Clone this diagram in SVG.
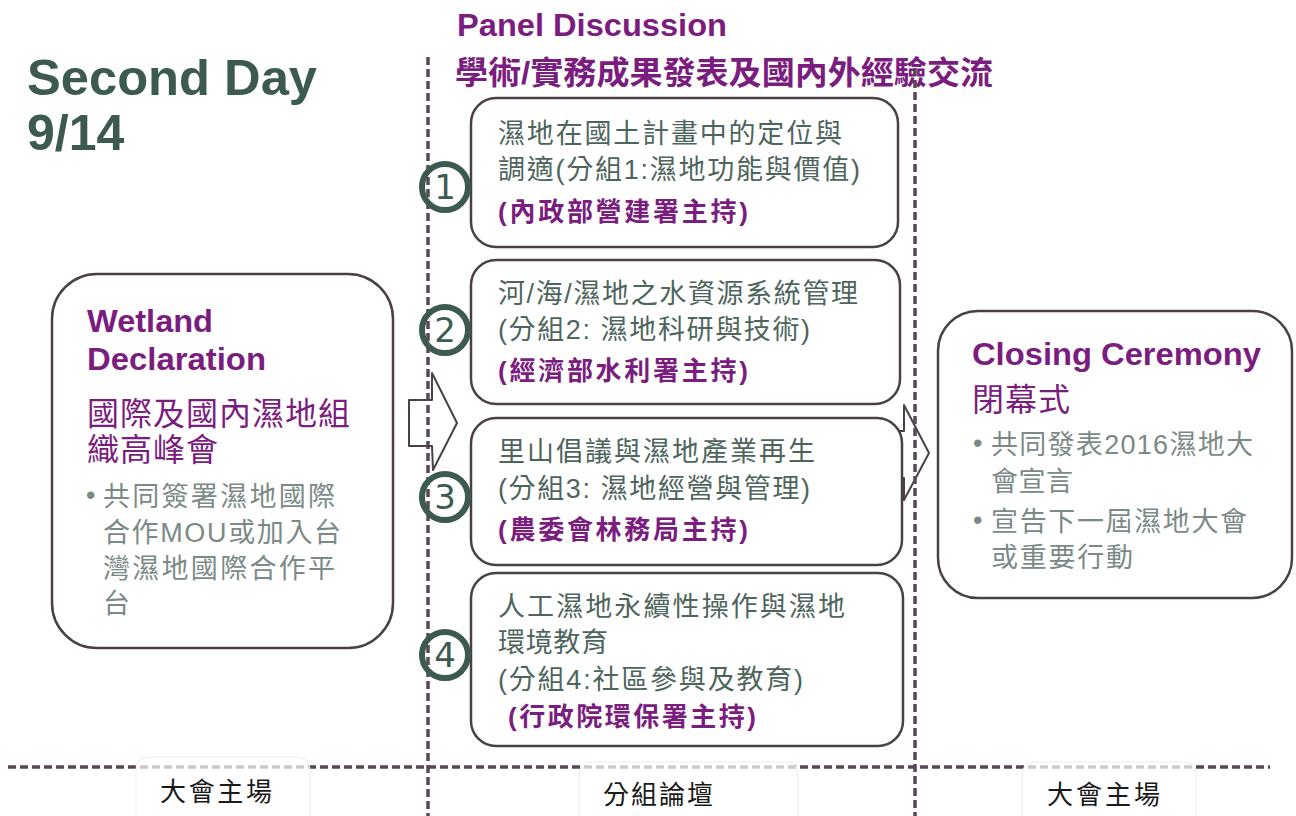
<svg xmlns="http://www.w3.org/2000/svg" width="1296" height="816" viewBox="0 0 1296 816">
<style>
.f{font-family:"Liberation Sans","Noto Sans CJK TC",sans-serif}
.title{font-size:50px;font-weight:bold;fill:#3d5a50}
.pt{font-size:32px;font-weight:bold;fill:#7b1d7e}
.hd{font-size:32px;font-weight:bold;fill:#7b1d7e}
.cj{font-size:32px;fill:#7b1d7e}
.bt{font-size:27px;fill:#4e655d}
.host{font-size:26px;font-weight:bold;fill:#7b1d7e}
.bl{font-size:27px;fill:#7b8a86}
.lab{font-size:26px;fill:#1a1a1a}
.box{fill:#ffffff;stroke:#4a404a;stroke-width:2.5}
.arrow{fill:#ffffff;stroke:#4a404a;stroke-width:2;stroke-linejoin:round}
.num{fill:none;stroke:#3d5a50;stroke-width:6}
.numt{font-size:34px;fill:#3d5a50;font-family:"DejaVu Sans","Liberation Sans",sans-serif}
.dash{stroke:#574757;stroke-width:3.5;stroke-dasharray:8 4;fill:none}
.lbg{fill:#ffffff;fill-opacity:0.7;stroke:#ececec;stroke-width:1}
</style>

<g id="heading">
<text class="f title" x="27" y="95" textLength="290" lengthAdjust="spacingAndGlyphs">Second Day</text>
<text class="f title" x="27" y="150">9/14</text>
</g>

<g id="panel-title">
<text class="f pt" x="457" y="36" textLength="270" lengthAdjust="spacingAndGlyphs">Panel Discussion</text>
<text class="f pt" x="455" y="84" textLength="538" lengthAdjust="spacingAndGlyphs">學術/實務成果發表及國內外經驗交流</text>
</g>

<g id="connectors">
<path class="arrow" d="M409,400 L432,400 L432,373 L457,423 L433,470 L432,446 L409,446 Z"/>
<path class="arrow" d="M883,431 L904,431 L904,405 L929,453 L904,500 L904,478 L883,478 Z"/>
</g>

<g id="guides">
<line class="dash" x1="428" y1="57" x2="428" y2="816"/>
<line class="dash" x1="915" y1="68" x2="915" y2="816"/>
<line class="dash" x1="8" y1="767" x2="1270" y2="767"/>
</g>

<g id="wetland-declaration">
<rect class="box" x="52" y="274" width="341" height="374" rx="45"/>
<text class="f hd" x="87" y="332" textLength="126" lengthAdjust="spacingAndGlyphs">Wetland</text>
<text class="f hd" x="87" y="370" textLength="179" lengthAdjust="spacingAndGlyphs">Declaration</text>
<text class="f cj" x="87" y="425" textLength="263" lengthAdjust="spacing">國際及國內濕地組</text>
<text class="f cj" x="87" y="461" textLength="131" lengthAdjust="spacing">織高峰會</text>
<text class="f bl" x="86" y="504" font-size="20">•</text>
<text class="f bl" x="103" y="506" textLength="232" lengthAdjust="spacing">共同簽署濕地國際</text>
<text class="f bl" x="103" y="542" textLength="238" lengthAdjust="spacing">合作MOU或加入台</text>
<text class="f bl" x="103" y="578" textLength="232" lengthAdjust="spacing">灣濕地國際合作平</text>
<text class="f bl" x="103" y="613">台</text>
</g>

<g id="group1">
<rect class="box" x="471" y="98" width="427" height="149" rx="25"/>
<text class="f bt" x="498" y="143" textLength="344" lengthAdjust="spacing">濕地在國土計畫中的定位與</text>
<text class="f bt" x="498" y="179" textLength="362" lengthAdjust="spacing">調適(分組1:濕地功能與價值)</text>
<text class="f host" x="498" y="221" textLength="250" lengthAdjust="spacing">(內政部營建署主持)</text>
<circle class="num" cx="445" cy="187" r="23"/>
<text class="numt" x="445" y="199" text-anchor="middle">1</text>
</g>

<g id="group2">
<rect class="box" x="471" y="260" width="429" height="144" rx="25"/>
<text class="f bt" x="498" y="303" textLength="360" lengthAdjust="spacing">河/海/濕地之水資源系統管理</text>
<text class="f bt" x="498" y="339" textLength="312" lengthAdjust="spacing">(分組2: 濕地科研與技術)</text>
<text class="f host" x="498" y="380" textLength="250" lengthAdjust="spacing">(經濟部水利署主持)</text>
<circle class="num" cx="445" cy="330" r="23"/>
<text class="numt" x="445" y="342" text-anchor="middle">2</text>
</g>

<g id="group3">
<rect class="box" x="471" y="418" width="431" height="147" rx="25"/>
<text class="f bt" x="498" y="461" textLength="317" lengthAdjust="spacing">里山倡議與濕地產業再生</text>
<text class="f bt" x="498" y="498" textLength="312" lengthAdjust="spacing">(分組3: 濕地經營與管理)</text>
<text class="f host" x="498" y="539" textLength="250" lengthAdjust="spacing">(農委會林務局主持)</text>
<circle class="num" cx="445" cy="497" r="23"/>
<text class="numt" x="445" y="509" text-anchor="middle">3</text>
</g>

<g id="group4">
<rect class="box" x="471" y="573" width="432" height="173" rx="25"/>
<text class="f bt" x="498" y="616" textLength="347" lengthAdjust="spacing">人工濕地永續性操作與濕地</text>
<text class="f bt" x="498" y="652" textLength="110" lengthAdjust="spacing">環境教育</text>
<text class="f bt" x="498" y="689" textLength="305" lengthAdjust="spacing">(分組4:社區參與及教育)</text>
<text class="f host" x="508" y="726" textLength="248" lengthAdjust="spacing">(行政院環保署主持)</text>
<circle class="num" cx="445" cy="655" r="23"/>
<text class="numt" x="445" y="667" text-anchor="middle">4</text>
</g>

<g id="closing-ceremony">
<rect class="box" x="938" y="311" width="354" height="287" rx="40"/>
<text class="f hd" x="972" y="365" textLength="289" lengthAdjust="spacingAndGlyphs">Closing Ceremony</text>
<text class="f cj" x="972" y="411" textLength="98" lengthAdjust="spacing">閉幕式</text>
<text class="f bl" x="973" y="452" font-size="20">•</text>
<text class="f bl" x="991" y="454" textLength="262" lengthAdjust="spacing">共同發表2016濕地大</text>
<text class="f bl" x="991" y="491" textLength="82" lengthAdjust="spacing">會宣言</text>
<text class="f bl" x="973" y="529" font-size="20">•</text>
<text class="f bl" x="991" y="531" textLength="256" lengthAdjust="spacing">宣告下一屆濕地大會</text>
<text class="f bl" x="991" y="567" textLength="142" lengthAdjust="spacing">或重要行動</text>
</g>

<g id="labels">
<rect class="lbg" x="136" y="757" width="174" height="70" rx="12"/>
<text class="f lab" x="160" y="801" textLength="112" lengthAdjust="spacing">大會主場</text>
<rect class="lbg" x="579" y="762" width="219" height="70" rx="12"/>
<text class="f lab" x="603" y="804" textLength="110" lengthAdjust="spacing">分組論壇</text>
<rect class="lbg" x="1022" y="762" width="174" height="70" rx="12"/>
<text class="f lab" x="1047" y="804" textLength="113" lengthAdjust="spacing">大會主場</text>
</g>
</svg>
